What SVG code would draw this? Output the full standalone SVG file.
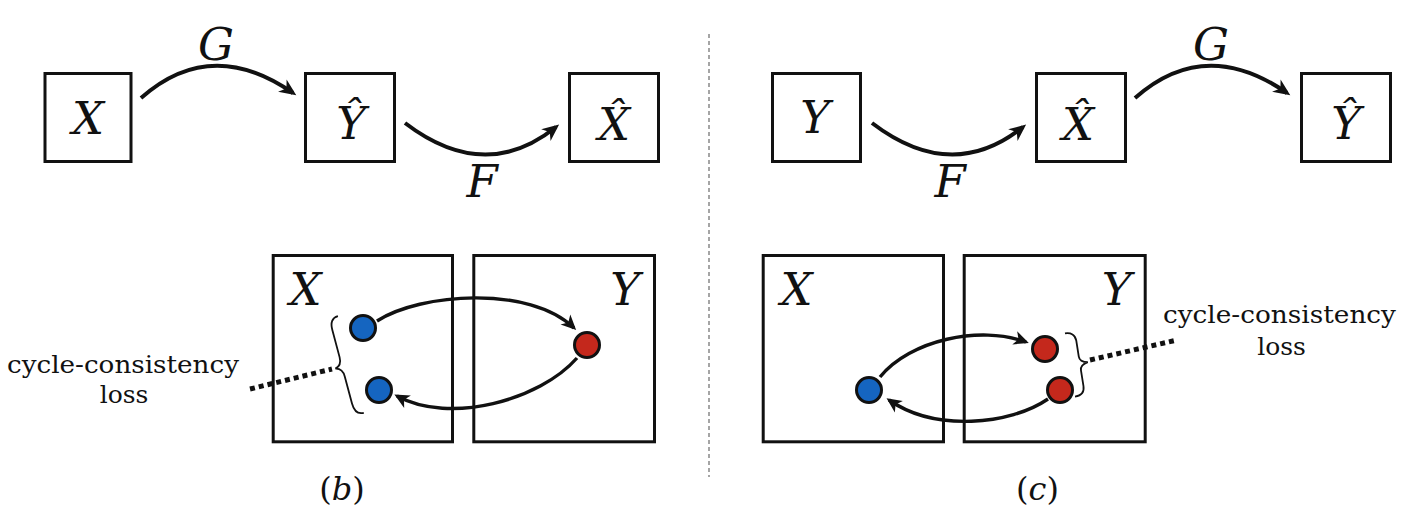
<svg xmlns="http://www.w3.org/2000/svg" width="1410" height="526" viewBox="0 0 1410 526">
<style>
  .box { fill: none; stroke: #111; stroke-width: 3; }
  .math { font-family: "DejaVu Serif", serif; font-style: italic; font-size: 45px; fill: #111; text-anchor: middle; }
  .rm { font-family: "DejaVu Serif", serif; font-size: 25px; fill: #111; text-anchor: middle; }
  .cap { font-family: "DejaVu Serif", serif; font-size: 32px; fill: #111; text-anchor: middle; }
  .thick { fill: none; stroke: #111; stroke-width: 4; marker-end: url(#headThick); }
  .thin { fill: none; stroke: #111; stroke-width: 3.4; marker-end: url(#headThin); }
  .dots { fill: none; stroke: #111; stroke-width: 5; stroke-dasharray: 5 4; }
  .brace { fill: none; stroke: #111; stroke-width: 1.8; }
  .blue { fill: #1565c0; stroke: #111; stroke-width: 3; }
  .red { fill: #c4281c; stroke: #111; stroke-width: 3; }
  .sep { stroke: #888; stroke-width: 1.5; stroke-dasharray: 4 3; }
</style>
<defs>
  <marker id="headThick" markerUnits="userSpaceOnUse" viewBox="-15 -10 20 20" refX="0" refY="0" markerWidth="20" markerHeight="20" orient="auto" overflow="visible">
    <path d="M4,0 L-13,-7.5 L-8,0 L-13,7.5 Z" fill="#111"/>
  </marker>
  <marker id="headThin" markerUnits="userSpaceOnUse" viewBox="-15 -10 20 20" refX="0" refY="0" markerWidth="20" markerHeight="20" orient="auto" overflow="visible">
    <path d="M3,0 L-12,-7 L-8,0 L-12,7 Z" fill="#111"/>
  </marker>
</defs>

<line id="separator" class="sep" x1="709" y1="34" x2="709" y2="477"/>

<!-- top left row -->
<g id="nodeX1"><rect class="box" x="45" y="73.5" width="86" height="88"/><text class="math" x="88" y="134">X</text></g>
<g id="nodeYhat1"><rect class="box" x="305.5" y="73.5" width="89" height="88"/><text class="math" x="351" y="139">Ŷ</text></g>
<g id="nodeXhat1"><rect class="box" x="569.5" y="73.5" width="89" height="88"/><text class="math" x="614" y="140">X̂</text></g>

<!-- top right row -->
<g id="nodeY2"><rect class="box" x="772.5" y="73.5" width="88" height="88"/><text class="math" x="815" y="133">Y</text></g>
<g id="nodeXhat2"><rect class="box" x="1036.5" y="73.5" width="89" height="88"/><text class="math" x="1078" y="140">X̂</text></g>
<g id="nodeYhat2"><rect class="box" x="1301.5" y="73.5" width="89" height="88"/><text class="math" x="1346" y="139">Ŷ</text></g>

<!-- bottom (b) -->
<g id="domainX_b"><rect class="box" x="273.2" y="255.5" width="179.3" height="186.3"/><text class="math" x="305.5" y="305">X</text></g>
<g id="domainY_b"><rect class="box" x="473.8" y="255.5" width="180.7" height="186.3"/><text class="math" x="625" y="305">Y</text></g>

<!-- bottom (c) -->
<g id="domainX_c"><rect class="box" x="763.2" y="255.5" width="180.3" height="186.3"/><text class="math" x="796.5" y="305">X</text></g>
<g id="domainY_c"><rect class="box" x="964.2" y="255.5" width="181" height="186.3"/><text class="math" x="1116.5" y="305">Y</text></g>

<g id="connectors">
  <path class="thick" d="M141,98 Q211,36 293,93"/>
  <path class="thick" d="M405,123 Q485,184 556,127"/>
  <path class="thick" d="M872,123 Q952,184 1023,127"/>
  <path class="thick" d="M1135,98 Q1205,36 1287,93"/>
  <path class="thin" d="M377,321 C420,293 530,285 574,328"/>
  <path class="thin" d="M577,358 C540,400 450,425 397,396"/>
  <path class="thin" d="M880,377 C910,340 980,325 1026,342"/>
  <path class="thin" d="M1048,399 C1010,425 935,432 889,400"/>
  <line class="dots" x1="250" y1="389" x2="332" y2="369"/>
  <line class="dots" x1="1090" y1="360" x2="1177" y2="340"/>
</g>

<g id="labels">
  <text class="math" x="216" y="60">G</text>
  <text class="math" x="1211" y="60">G</text>
  <text class="math" x="482" y="197">F</text>
  <text class="math" x="950" y="197">F</text>
</g>

<g id="points_b">
  <circle class="blue" cx="363" cy="328" r="12.5"/>
  <circle class="blue" cx="379" cy="390" r="12.5"/>
  <circle class="red" cx="587" cy="345" r="12.5"/>
  <path class="brace" transform="translate(347,365.5) rotate(-15)" d="M4,-50 C-2,-50 -5,-46 -5,-38 L-5,-10 C-5,-4 -7,-1 -12,0 C-7,1 -5,4 -5,10 L-5,38 C-5,46 -2,50 4,50"/>
</g>
<g id="points_c">
  <circle class="blue" cx="869" cy="390" r="12.5"/>
  <circle class="red" cx="1045" cy="349" r="12.5"/>
  <circle class="red" cx="1060" cy="390" r="12.5"/>
  <path class="brace" transform="translate(1070,365) rotate(-9)" d="M0,-32 C6,-32 10,-29 10,-23 L10,-7 C10,-3 13,-1 18,0 C13,1 10,3 10,7 L10,23 C10,29 6,32 0,32"/>
</g>

<g id="loss_b">
  <text class="rm" x="123" y="373" textLength="232" lengthAdjust="spacingAndGlyphs">cycle-consistency</text>
  <text class="rm" x="124" y="403">loss</text>
</g>
<g id="loss_c">
  <text class="rm" x="1279.5" y="323" textLength="233" lengthAdjust="spacingAndGlyphs">cycle-consistency</text>
  <text class="rm" x="1281.5" y="355">loss</text>
</g>

<g id="captions">
  <text class="cap" x="342" y="500">(<tspan font-style="italic">b</tspan>)</text>
  <text class="cap" x="1037.5" y="500">(<tspan font-style="italic">c</tspan>)</text>
</g>
</svg>
